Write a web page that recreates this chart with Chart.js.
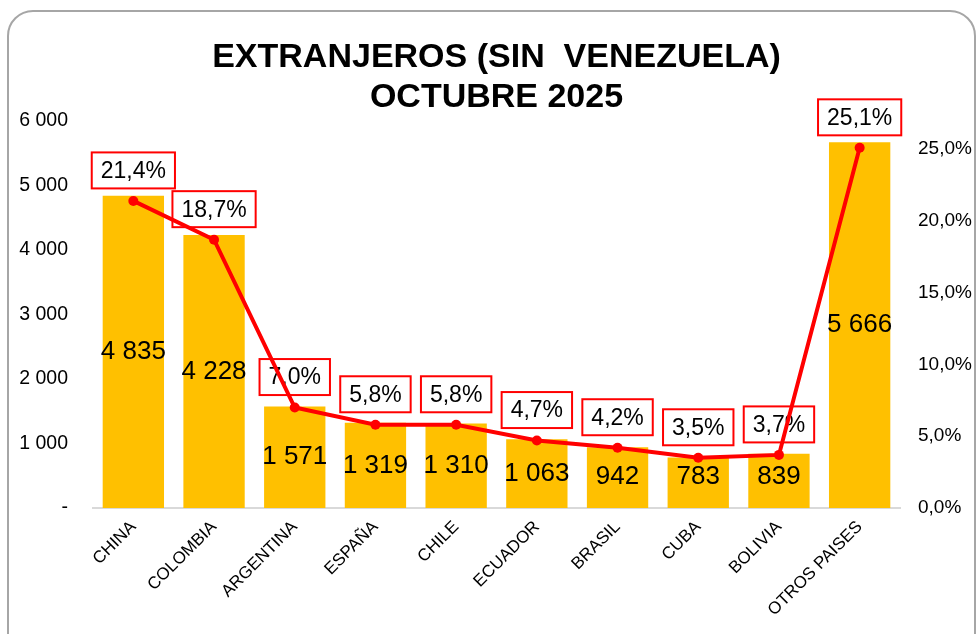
<!DOCTYPE html>
<html>
<head>
<meta charset="utf-8">
<script src="https://cdn.jsdelivr.net/npm/chart.js@4/dist/chart.umd.min.js"></script>
<style>
html,body{margin:0;padding:0;background:#fff;}
#wrap{position:relative;width:978px;height:634px;overflow:hidden;background:#fff;}
#frame{position:absolute;left:7px;top:10px;width:969px;height:680px;border:2px solid #a6a6a6;border-radius:26px;box-sizing:border-box;pointer-events:none;}
#c{position:absolute;left:0;top:0;}
</style>
</head>
<body>
<div id="wrap">
<canvas id="c" width="978" height="634"></canvas>
<div id="frame"></div>
</div>
<script>
const titleLines = ['EXTRANJEROS (SIN  VENEZUELA)', 'OCTUBRE 2025'];
const categories = ['CHINA', 'COLOMBIA', 'ARGENTINA', 'ESPAÑA', 'CHILE', 'ECUADOR', 'BRASIL', 'CUBA', 'BOLIVIA', 'OTROS PAISES'];
const arrivals = [4835, 4228, 1571, 1319, 1310, 1063, 942, 783, 839, 5666];
const shares = [21.4, 18.7, 7.0, 5.8, 5.8, 4.7, 4.2, 3.5, 3.7, 25.1];
const leftAxis = {min: 0, max: 6000, step: 1000};
const rightAxis = {min: 0, max: 27, step: 5};

const FONT = '"Liberation Sans", Arial, sans-serif';

function fmtThousands(v) {
  return String(Math.round(v)).replace(/\B(?=(\d{3})+(?!\d))/g, ' ');
}
function fmtPct(v) {
  return v.toFixed(1).replace('.', ',') + '%';
}

const labelPlugin = {
  id: 'labels',
  beforeDatasetDraw(chart, args) {
    if (args.index !== 1) return;
    const ctx = chart.ctx;
    ctx.save();
    const barMeta = chart.getDatasetMeta(0);
    ctx.font = '26px ' + FONT;
    ctx.fillStyle = '#000';
    ctx.textAlign = 'center';
    ctx.textBaseline = 'middle';
    barMeta.data.forEach((el, i) => {
      const mid = (el.y + el.base) / 2;
      const cy = Math.min(mid, el.base - 31);
      ctx.fillText(fmtThousands(arrivals[i]), el.x, cy);
    });
    const lineMeta = chart.getDatasetMeta(1);
    ctx.font = '23px ' + FONT;
    lineMeta.data.forEach((p, i) => {
      const t = fmtPct(shares[i]);
      const w = ctx.measureText(t).width + 18;
      const h = 36;
      const bottom = p.y - 12.5;
      const x0 = p.x - w / 2, y0 = bottom - h;
      ctx.fillStyle = '#fff';
      ctx.fillRect(x0, y0, w, h);
      ctx.strokeStyle = '#ff0000';
      ctx.lineWidth = 2;
      ctx.strokeRect(x0, y0, w, h);
      ctx.fillStyle = '#000';
      ctx.fillText(t, p.x, y0 + h / 2 + 1);
    });
    ctx.restore();
  }
};

new Chart(document.getElementById('c'), {
  data: {
    labels: categories,
    datasets: [
      {
        type: 'bar',
        data: arrivals,
        yAxisID: 'y',
        backgroundColor: '#FFC000',
        barPercentage: 0.76,
        categoryPercentage: 1,
        order: 1
      },
      {
        type: 'line',
        data: shares,
        yAxisID: 'y1',
        borderColor: '#FF0000',
        borderWidth: 4,
        pointRadius: 5,
        pointBackgroundColor: '#FF0000',
        pointBorderWidth: 0,
        tension: 0,
        order: 0
      }
    ]
  },
  options: {
    responsive: false,
    animation: false,
    devicePixelRatio: 1,
    layout: {padding: {left: 0, right: 0, top: 0, bottom: 0}},
    plugins: {
      legend: {display: false},
      tooltip: {enabled: false},
      title: {
        display: true,
        text: titleLines,
        fullSize: false,
        color: '#000',
        font: {family: FONT, size: 34, weight: 'bold', lineHeight: 1.17},
        padding: {top: 38, bottom: 3}
      }
    },
    scales: {
      x: {
        grid: {display: false, drawTicks: false},
        border: {display: true, color: '#d9d9d9', width: 2},
        ticks: {
          color: '#000',
          font: {family: FONT, size: 17},
          minRotation: 45,
          maxRotation: 45,
          autoSkip: false,
          padding: 9
        },
        afterFit(s) { s.height = 126; }
      },
      y: {
        position: 'left',
        min: leftAxis.min,
        max: leftAxis.max,
        grid: {display: false, drawTicks: false},
        border: {display: false},
        ticks: {
          stepSize: leftAxis.step,
          color: '#000',
          font: {family: FONT, size: 19.5},
          padding: 25,
          callback: v => v === 0 ? '-' : fmtThousands(v)
        },
        afterFit(s) { s.width = 93; }
      },
      y1: {
        position: 'right',
        min: rightAxis.min,
        max: rightAxis.max,
        grid: {display: false, drawTicks: false},
        border: {display: false},
        ticks: {
          stepSize: rightAxis.step,
          color: '#000',
          font: {family: FONT, size: 19},
          padding: 18,
          callback: v => (Math.abs(v % 5) < 1e-9) ? fmtPct(v) : null
        },
        afterFit(s) { s.width = 78; }
      }
    }
  },
  plugins: [labelPlugin]
});
</script>
</body>
</html>
